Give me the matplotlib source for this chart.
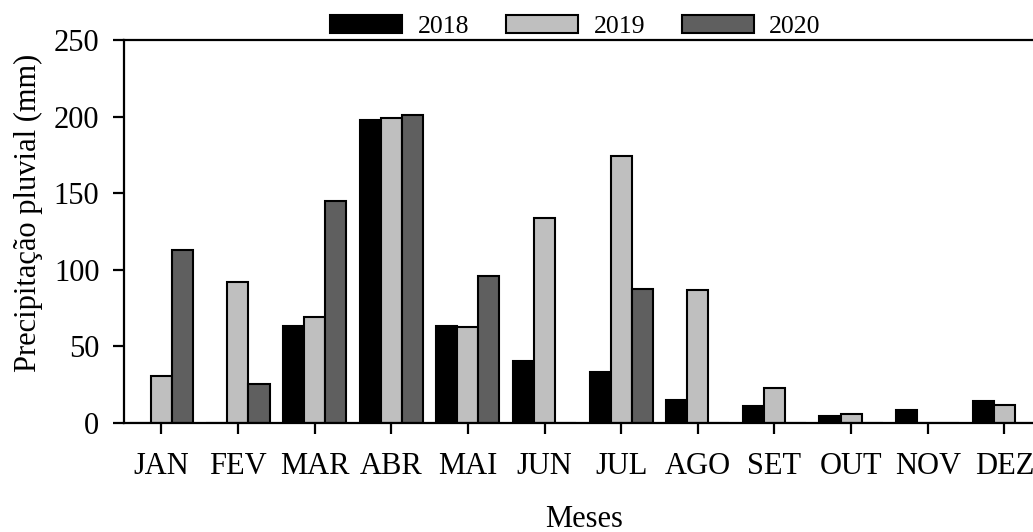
import numpy as np
import matplotlib
matplotlib.use("Agg")
import matplotlib.pyplot as plt

# --- data ---
months = ["JAN", "FEV", "MAR", "ABR", "MAI", "JUN", "JUL", "AGO", "SET", "OUT", "NOV", "DEZ"]
rain_2018 = [0, 0, 63, 197.5, 63, 40.5, 33, 15, 11, 4.8, 8.7, 14.4]
rain_2019 = [31, 92, 69, 199, 62.5, 133.5, 174.5, 87, 22.6, 5.9, 0, 11.8]
rain_2020 = [113, 25.3, 145, 201, 96, 0, 87.7, 0, 0, 0, 0, 0]
years = ["2018", "2019", "2020"]
colors = ["#000000", "#bfbfbf", "#5f5f5f"]

plt.rcParams["font.family"] = ["Liberation Serif", "DejaVu Serif"]

fig = plt.figure(figsize=(10.33, 5.32), dpi=100)
ax = fig.add_axes([124 / 1033, 109 / 532, 909 / 1033, 383 / 532])

x = np.arange(len(months))
w = 0.275
lw = 1.5
for k, (vals, col, lab) in enumerate(zip([rain_2018, rain_2019, rain_2020], colors, years)):
    ax.bar(x + (k - 1) * w, vals, width=w, color=col, edgecolor="black",
           linewidth=lw, label=lab, zorder=2)

ax.set_xlim(-0.487, 11.374)
ax.set_ylim(0, 250)
ax.set_yticks([0, 50, 100, 150, 200, 250])
ax.set_xticks(x)
ax.set_xticklabels(months)

for s in ["left", "top", "bottom"]:
    ax.spines[s].set_linewidth(1.6)
ax.spines["right"].set_visible(False)
ax.tick_params(axis="both", direction="out", length=7.7, width=1.6, labelsize=22)
ax.tick_params(axis="y", pad=10)
ax.tick_params(axis="x", pad=13)

ax.set_ylabel("Precipitação pluvial (mm)", fontsize=22)
ax.yaxis.set_label_coords(-0.089, 0.548)
ax.set_xlabel("Meses", fontsize=22)
ax.xaxis.set_label_coords(0.506, -0.214)

fig.legend(loc="center", bbox_to_anchor=(0.5571, 0.9508), ncol=3, frameon=False,
           fontsize=18.5, handlelength=2.8, handleheight=0.74, handletextpad=0.6,
           columnspacing=1.43, borderpad=0, borderaxespad=0)

fig.savefig("out.png", dpi=100)
